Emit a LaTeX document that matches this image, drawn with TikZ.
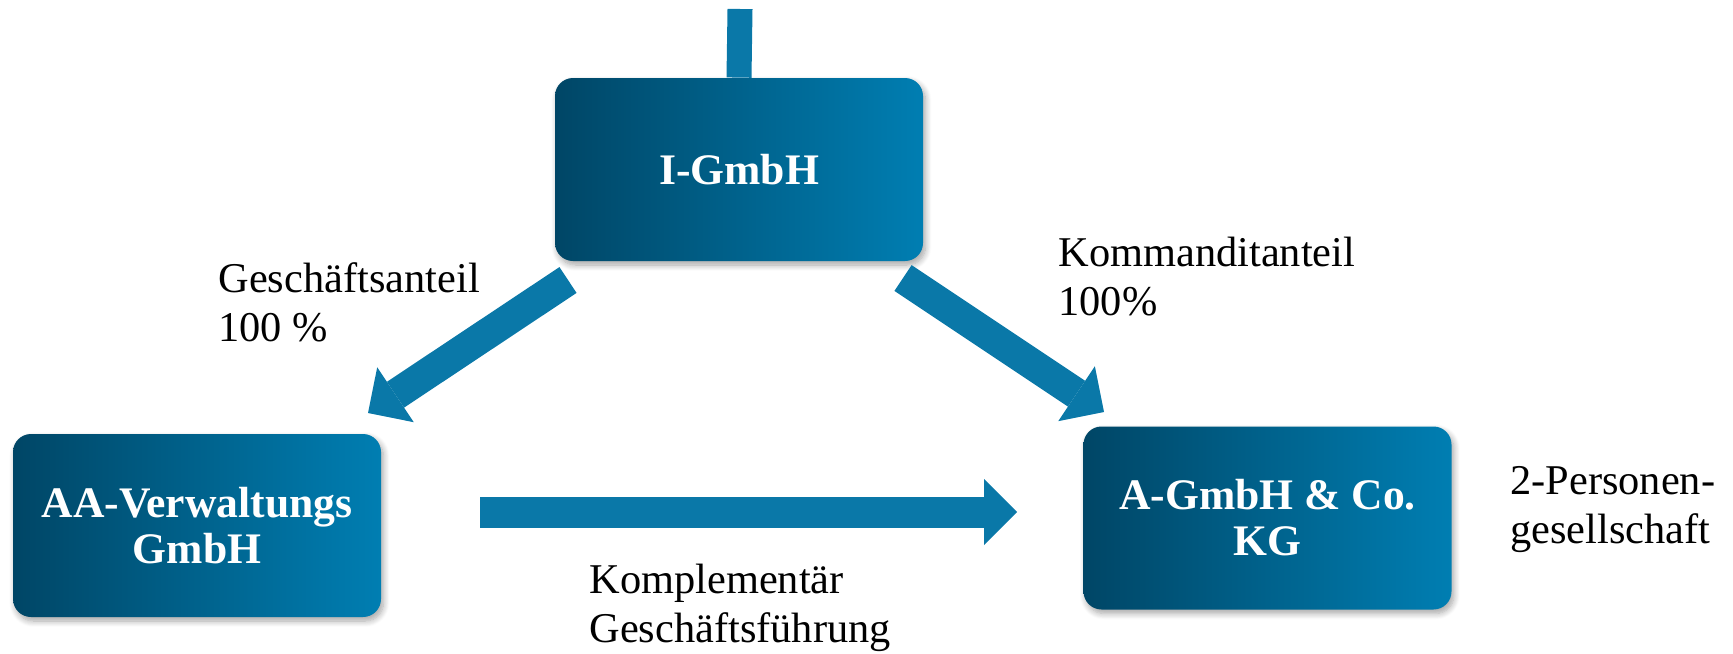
\documentclass[tikz,border=0pt]{standalone}
\usepackage{fontspec}
\setmainfont{Liberation Serif}
\usetikzlibrary{arrows.meta,shadows.blur}
\definecolor{boxleft}{RGB}{0,70,102}
\definecolor{boxright}{RGB}{0,126,178}
\definecolor{arrowcol}{RGB}{10,120,168}
\tikzset{
  entity/.style={rounded corners=9pt, minimum width=184pt, minimum height=91.5pt, inner sep=0pt,
    left color=boxleft, right color=boxright, text=white, align=center,
    font=\fontsize{21.8}{23}\selectfont\bfseries,
    blur shadow={shadow xshift=1.2pt, shadow yshift=-2pt, shadow blur steps=8, shadow blur radius=3pt, shadow opacity=35}},
  lbl/.style={anchor=west, inner sep=0pt, align=left, font=\fontsize{21.2}{24.5}\selectfont},
  blockarrow/.style={draw=arrowcol, line width=15.5pt,
    -{Triangle[length=16.5pt,width=33pt,line width=0pt]}},
}
\begin{document}
\begin{tikzpicture}[x=0.5pt,y=-0.5pt]
\useasboundingbox (0,0) rectangle (1733,653);
\node[entity] (ig) at (739,169.5) {I-GmbH};
\node[entity] (aa) at (197,525.5) {AA-Verwaltungs\\GmbH};
\node[entity] (ak) at (1267.5,518) {A-GmbH \& Co.\\KG};
\coordinate (topc) at (740,9);
\draw[arrowcol, line width=12.5pt] (topc) -- (ig.north);
\coordinate (l1) at (568,280);
\coordinate (l2) at (368,413);
\coordinate (r1) at (903,278);
\coordinate (r2) at (1104,412);
\coordinate (h1) at (480,512);
\coordinate (h2) at (1017,512);
\draw[blockarrow] (l1) -- (l2);
\draw[blockarrow] (r1) -- (r2);
\draw[blockarrow] (h1) -- (h2);
\node[lbl] (lg) at (218,302.5) {Geschäftsanteil\\100 \%};
\node[lbl] (lk) at (1058,276.5) {Kommanditanteil\\100\%};
\node[lbl] (lp) at (1510,510) {2-Personen-\\gesellschaft};
\node[lbl] (lc) at (589,607.5) {Komplementär\\Geschäftsführung};
\end{tikzpicture}
\end{document}
